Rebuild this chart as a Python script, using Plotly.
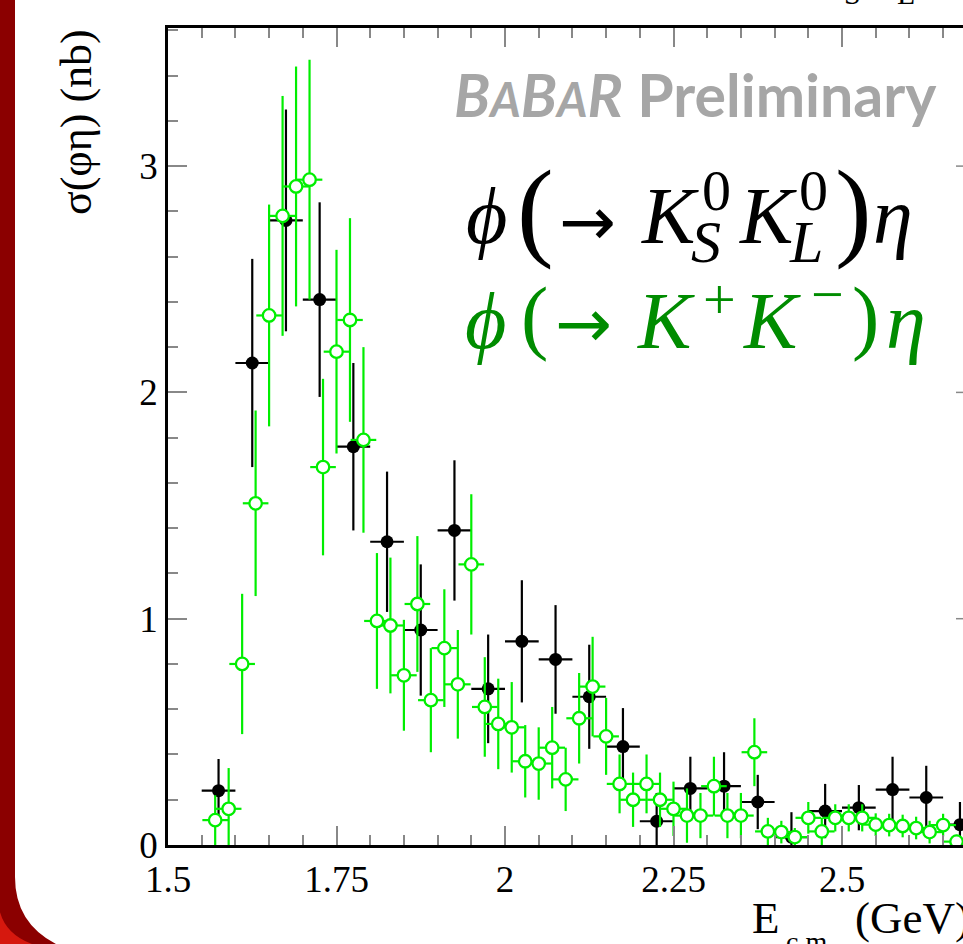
import plotly.graph_objects as go

# ---------------- data ----------------
E_kskl = [1.575, 1.625, 1.675, 1.725, 1.775, 1.825, 1.875, 1.925, 1.975, 2.025, 2.075, 2.125,
          2.175, 2.225, 2.275, 2.325, 2.375, 2.425, 2.475, 2.525, 2.575, 2.625, 2.675]
sig_kskl = [0.24, 2.13, 2.76, 2.41, 1.76, 1.34, 0.95, 1.39, 0.69, 0.90, 0.82, 0.655,
            0.435, 0.105, 0.25, 0.26, 0.19, 0.035, 0.15, 0.165, 0.245, 0.21, 0.09]
err_kskl = [0.14, 0.46, 0.49, 0.43, 0.37, 0.31, 0.29, 0.31, 0.24, 0.27, 0.24, 0.23,
            0.17, 0.125, 0.14, 0.15, 0.12, 0.11, 0.12, 0.10, 0.145, 0.14, 0.10]

E_kk = [1.57, 1.59, 1.61, 1.63, 1.65, 1.67, 1.69, 1.71, 1.73, 1.75, 1.77, 1.79, 1.81, 1.83,
        1.85, 1.87, 1.89, 1.91, 1.93, 1.95, 1.97, 1.99, 2.01, 2.03, 2.05, 2.07, 2.09, 2.11,
        2.13, 2.15, 2.17, 2.19, 2.21, 2.23, 2.25, 2.27, 2.29, 2.31, 2.33, 2.35, 2.37, 2.39,
        2.41, 2.43, 2.45, 2.47, 2.49, 2.51, 2.53, 2.55, 2.57, 2.59, 2.61, 2.63, 2.65, 2.67]
sig_kk = [0.11, 0.16, 0.80, 1.51, 2.34, 2.78, 2.91, 2.94, 1.67, 2.18, 2.32, 1.79, 0.99, 0.97,
          0.75, 1.065, 0.64, 0.87, 0.71, 1.24, 0.61, 0.535, 0.52, 0.37, 0.36, 0.43, 0.29, 0.56,
          0.70, 0.48, 0.27, 0.20, 0.27, 0.20, 0.16, 0.13, 0.13, 0.26, 0.13, 0.13, 0.41, 0.06,
          0.057, 0.035, 0.12, 0.06, 0.12, 0.12, 0.12, 0.09, 0.088, 0.084, 0.075, 0.057, 0.088, 0.015]
err_kk = [0.11, 0.18, 0.31, 0.41, 0.49, 0.53, 0.53, 0.53, 0.39, 0.45, 0.45, 0.41, 0.30, 0.30,
          0.245, 0.30, 0.23, 0.26, 0.24, 0.31, 0.22, 0.20, 0.20, 0.16, 0.16, 0.18, 0.14, 0.20,
          0.22, 0.17, 0.13, 0.12, 0.13, 0.12, 0.12, 0.12, 0.10, 0.13, 0.10, 0.10, 0.15, 0.06,
          0.05, 0.04, 0.07, 0.06, 0.06, 0.06, 0.06, 0.05, 0.05, 0.05, 0.05, 0.05, 0.05, 0.03]

x_tickvals = [1.5, 1.75, 2.0, 2.25, 2.5]
x_ticktext = ["1.5", "1.75", "2", "2.25", "2.5"]
y_tickvals = [0, 1, 2, 3]
y_ticktext = ["0", "1", "2", "3"]

# ---------------- layout geometry ----------------
W, H = 963, 944
L, R, T, B = 168, 963, 28, 845
X0, X1 = 1.5, 1.5 + (R - L) / 674.0
Y0, Y1 = 0.0, (B - T) / 226.3


def px(x):
    return (x - L) / (R - L)


def py(y):
    return (B - y) / (B - T)


GREEN = "#00ee00"
SERIF = "Liberation Serif"

fig = go.Figure()

fig.add_trace(go.Scatter(
    x=E_kskl, y=sig_kskl, mode="markers",
    marker=dict(symbol="circle", size=13, color="black"),
    error_y=dict(type="data", array=err_kskl, color="black", thickness=2.2, width=0),
    error_x=dict(type="constant", value=0.025, color="black", thickness=2.2, width=0),
    showlegend=False, cliponaxis=True,
))
fig.add_trace(go.Scatter(
    x=E_kk, y=sig_kk, mode="markers",
    marker=dict(symbol="circle", size=12.5, color="white", line=dict(color=GREEN, width=2.3)),
    error_y=dict(type="data", array=err_kk, color=GREEN, thickness=2.2, width=0),
    error_x=dict(type="constant", value=0.019, color=GREEN, thickness=2.2, width=0),
    showlegend=False, cliponaxis=True,
))

annotations = []


def txt(text, x, y, size, color="black", family=SERIF, xanchor="center", yanchor="middle", angle=0):
    annotations.append(dict(
        text=text, x=px(x), y=py(y), xref="paper", yref="paper",
        xanchor=xanchor, yanchor=yanchor, showarrow=False, textangle=angle,
        font=dict(size=size, color=color, family=family),
    ))


# BABAR Preliminary
txt("<b><i>B<span style='font-size:47px'>A</span>B<span style='font-size:47px'>A</span>R</i> Preliminary</b>",
    695, 94, 59, color="#a6a6a6", family="Lato")

# line 1 : phi(-> K0S K0L) eta
txt("<i>ϕ</i>", 486, 216, 80)
txt("(", 535, 209, 110)
txt("→", 587, 221, 68, family="DejaVu Sans")
txt("<i>K</i>", 670, 216, 80)
txt("0", 716, 190, 58)
txt("<i>S</i>", 706, 242, 60)
txt("<i>K</i>", 768, 216, 80)
txt("0", 813, 190, 58)
txt("<i>L</i>", 806, 242, 60)
txt(")", 853, 209, 110)
txt("<i>η</i>", 893, 216, 80)

# line 2 : phi(-> K+ K-) eta
G2 = "#008c00"
txt("<i>ϕ</i>", 485, 321, 80, G2)
txt("(", 534, 316, 82, G2)
txt("→", 583, 324, 68, G2, family="DejaVu Sans")
txt("<i>K</i>", 666, 321, 80, G2)
txt("+", 719, 299, 58, G2)
txt("<i>K</i>", 772, 321, 80, G2)
txt("−", 827, 294, 58, G2)
txt(")", 865, 316, 82, G2)
txt("<i>η</i>", 906, 321, 80, G2)

# axis titles
txt("σ(φη) (nb)", 76, 122, 44, angle=-90)
txt("E", 766, 918, 45)
txt("c.m.", 810, 941, 28)
txt("(GeV)", 853, 918, 45, xanchor="left")

# clipped title fragments at the very top
txt("S", 852, -6, 30)
txt("L", 906, -6, 30)

# ---------------- shapes (slide decoration, right-axis tick stubs) ----------------
shapes = []
DARK = "rgb(139,0,0)"
BRIGHT = "rgb(214,24,14)"


def P(x, y):
    return f"{px(x):.5f},{py(y):.5f}"


dark_path = (f"M {P(-2,-2)} L {P(15,-2)} L {P(15,877)} Q {P(15,925)} {P(60,946)} "
             f"L {P(-2,946)} Z")
bright_path = f"M {P(-2,900)} Q {P(0,935)} {P(38,946)} L {P(-2,946)} Z"
shapes.append(dict(type="path", path=dark_path, xref="paper", yref="paper",
                   fillcolor=DARK, line=dict(width=0), layer="above"))
shapes.append(dict(type="path", path=bright_path, xref="paper", yref="paper",
                   fillcolor=BRIGHT, line=dict(width=0), layer="above"))
for v in y_tickvals[1:]:
    shapes.append(dict(type="line", xref="paper", yref="y", x0=px(956), x1=1.0, y0=v, y1=v,
                       line=dict(color="#888888", width=1.5)))

fig.update_layout(
    width=W, height=H,
    margin=dict(l=L, r=W - R, t=T, b=H - B, pad=0),
    paper_bgcolor="white", plot_bgcolor="white",
    showlegend=False,
    annotations=annotations,
    shapes=shapes,
    xaxis=dict(
        range=[X0, X1], tickvals=x_tickvals, ticktext=x_ticktext,
        showgrid=False, zeroline=False, showline=True, linecolor="black", linewidth=2.5,
        mirror="ticks", ticks="inside", ticklen=19, tickwidth=1.5, tickcolor="#888888",
        minor=dict(dtick=0.05, tick0=1.5, ticks="inside", ticklen=10, tickwidth=1.5,
                   tickcolor="#888888", showgrid=False),
        tickfont=dict(family=SERIF, size=37, color="black"),
        fixedrange=True,
    ),
    yaxis=dict(
        range=[Y0, Y1], tickvals=y_tickvals, ticktext=y_ticktext,
        showgrid=False, zeroline=False, showline=True, linecolor="black", linewidth=2.5,
        mirror=False, ticks="inside", ticklen=19, tickwidth=1.5, tickcolor="#888888",
        minor=dict(dtick=0.2, tick0=0, ticks="inside", ticklen=10, tickwidth=1.5,
                   tickcolor="#888888", showgrid=False),
        tickfont=dict(family=SERIF, size=37, color="black"),
        fixedrange=True,
    ),
)

fig.write_html("out.html", config={"displayModeBar": False})
